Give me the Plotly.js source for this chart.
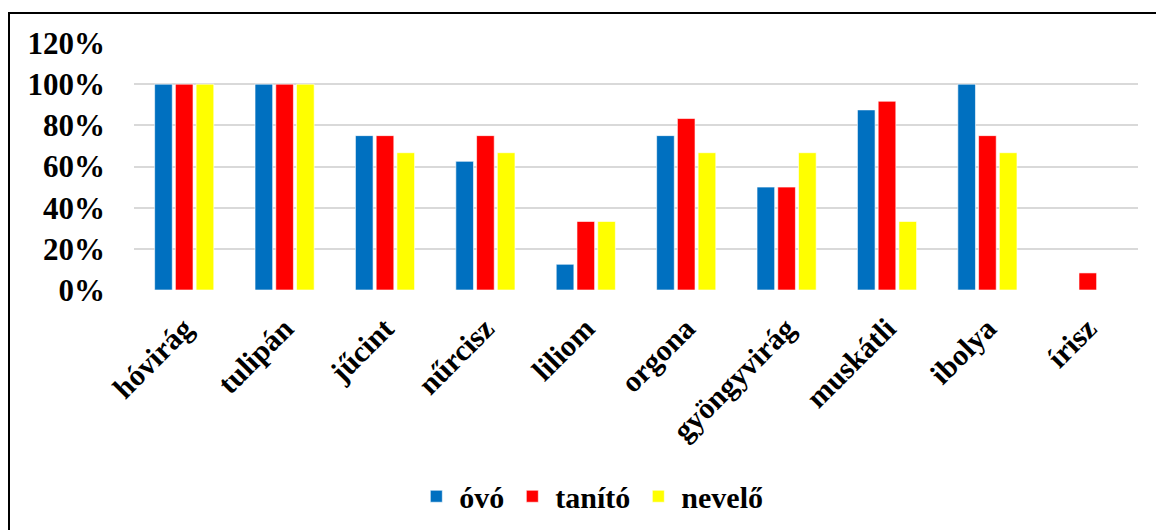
<!DOCTYPE html>
<html>
<head>
<meta charset="utf-8">
<script src="https://cdn.plot.ly/plotly-3.0.1.min.js"></script>
<style>
html,body{margin:0;padding:0;background:#fff;}
#wrap{position:relative;width:1156px;height:530px;overflow:hidden;}
#chart{width:1156px;height:530px;}
#frame{position:absolute;left:8px;top:12px;width:1200px;height:600px;border-left:2px solid #000;border-top:2px solid #000;pointer-events:none;box-sizing:border-box;}
</style>
</head>
<body>
<div id="wrap"><div id="chart"></div><div id="frame"></div></div>
<script>
const categories = ["hóvirág","tulipán","jűcint","nűrcisz","liliom","orgona","gyöngyvirág","muskátli","ibolya","írisz"];
const ovo     = [1, 1, 0.75, 0.625, 0.125, 0.75, 0.5, 0.875, 1, 0];
const tanito  = [1, 1, 0.75, 0.75, 0.333, 0.833, 0.5, 0.917, 0.75, 0.083];
const nevelo  = [1, 1, 0.667, 0.667, 0.333, 0.667, 0.667, 0.333, 0.667, 0];
const seriesNames = ["óvó","tanító","nevelő"];
const colors = ["#0070C0","#FF0000","#FFFF00"];
const yTicks = [0,0.2,0.4,0.6,0.8,1.0,1.2];
const yTickLabels = ["0%","20%","40%","60%","80%","100%","120%"];

const fam = "Liberation Serif";
const data = [ovo, tanito, nevelo].map((v,i)=>({
  type:"bar", x:categories, y:v, name:seriesNames[i],
  marker:{color:colors[i], line:{color:"rgba(255,255,255,0.6)", width:1}}
}));
const layout = {
  width:1156, height:530,
  margin:{l:134, r:18, t:43, b:240, autoexpand:false},
  paper_bgcolor:"#fff", plot_bgcolor:"#fff",
  barmode:"group", bargap:0.38, bargroupgap:0.15,
  font:{family:fam, size:30, color:"#000", weight:"bold"},
  showlegend:true,
  legend:{orientation:"h", x:0.455, xanchor:"center", y:-0.835, yanchor:"middle",
          font:{family:fam, size:30, color:"#000", weight:"bold"}, itemwidth:36, traceorder:"normal"},
  xaxis:{tickangle:-45, tickfont:{family:fam, size:30, color:"#000", weight:"bold"}, showgrid:false,
         showline:false, ticks:"", automargin:false, ticklabelstandoff:14},
  yaxis:{range:[0,1.2], tickvals:yTicks, ticktext:yTickLabels, showgrid:true, gridcolor:"#d9d9d9",
         gridwidth:2, zeroline:false, tickfont:{family:fam, size:31, color:"#000", weight:"bold"},
         ticks:"", ticklabelstandoff:28, automargin:false}
};
Plotly.newPlot("chart", data, layout, {displayModeBar:false, staticPlot:true});
</script>
</body>
</html>
